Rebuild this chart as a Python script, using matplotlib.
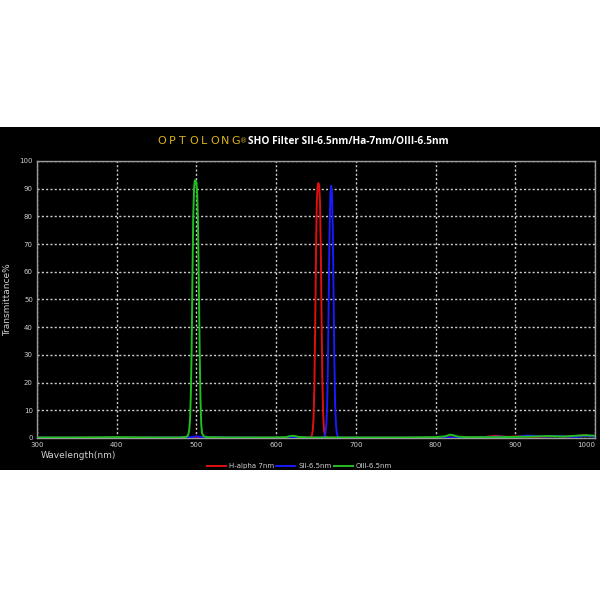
import matplotlib
matplotlib.use("Agg")
import matplotlib.pyplot as plt
from matplotlib.patches import Rectangle

# ---- data ----
oiii_wl = [300, 350, 400, 450, 479, 487, 489, 490, 491, 492, 493, 494, 495, 496, 497, 498, 499, 500,
           501, 502, 503, 504, 505, 506, 507, 509, 514, 540, 600, 612, 618, 622, 628, 640, 700, 760,
           800, 812, 818, 822, 828, 840, 880, 900, 920, 940, 960, 980, 990, 1000]
oiii_t = [0.2, 0.2, 0.3, 0.2, 0.2, 0.4, 0.8, 1.5, 3, 7, 16, 33, 58, 80, 90, 93, 93, 92,
          88, 76, 55, 32, 14, 5, 1.8, 0.6, 0.3, 0.2, 0.2, 0.3, 0.7, 0.8, 0.4, 0.2, 0.2, 0.2,
          0.3, 0.6, 1.2, 1.0, 0.5, 0.3, 0.3, 0.4, 0.5, 0.7, 0.5, 0.9, 1.0, 0.8]

ha_wl = [300, 400, 500, 600, 640, 644, 645, 646, 647, 648, 649, 650, 651, 652, 653, 654, 655, 656,
         657, 658, 659, 660, 661, 662, 665, 700, 800, 860, 875, 890, 910, 930, 950, 970, 985, 1000]
ha_t = [0.1, 0.1, 0.2, 0.1, 0.1, 0.5, 1.2, 3, 8, 20, 42, 68, 85, 91, 92, 91, 85, 68,
        42, 20, 8, 3, 1.2, 0.5, 0.1, 0.1, 0.1, 0.3, 0.8, 0.4, 0.6, 0.3, 0.7, 0.5, 1.0, 0.6]

sii_wl = [300, 400, 490, 500, 510, 600, 655, 660, 661, 662, 663, 664, 665, 666, 667, 668, 669, 670,
          671, 672, 673, 674, 675, 676, 677, 678, 682, 750, 850, 880, 900, 915, 935, 955, 975, 990, 1000]
sii_t = [0.1, 0.1, 0.2, 0.6, 0.2, 0.1, 0.1, 0.3, 0.8, 2, 5, 12, 28, 52, 75, 88, 91, 88,
         75, 52, 28, 12, 5, 2, 0.8, 0.3, 0.1, 0.1, 0.2, 0.5, 0.3, 0.9, 0.5, 0.7, 0.4, 0.8, 0.5]

x_ticks = [300, 400, 500, 600, 700, 800, 900, 1000]
y_ticks = [0, 10, 20, 30, 40, 50, 60, 70, 80, 90, 100]

series_labels = ["H-alpha 7nm", "SII-6.5nm", "OIII-6.5nm"]

# ---- figure ----
fig = plt.figure(figsize=(6, 6), dpi=100, facecolor="white")
fig.patches.append(Rectangle((0, 0.2167), 1, 0.5716, transform=fig.transFigure,
                             facecolor="black", edgecolor="none", zorder=-10))

ax = fig.add_axes([0.0617, 0.27, 0.930, 0.4617])
ax.set_zorder(1)
ax.set_facecolor("black")

ax.plot(ha_wl, ha_t, color="#e01010", lw=1.4, label=series_labels[0], zorder=3)
ax.plot(sii_wl, sii_t, color="#1a1aff", lw=1.4, label=series_labels[1], zorder=4)
ax.plot(oiii_wl, oiii_t, color="#20c020", lw=1.4, label=series_labels[2], zorder=5)

ax.set_xlim(300, 1000)
ax.set_ylim(0, 100)
ax.set_xticks(x_ticks)
ax.set_yticks(y_ticks)
ax.grid(True, color="#d0d0d0", linestyle=(0, (1.5, 1.6)), linewidth=1.0)
ax.set_axisbelow(True)
for s in ax.spines.values():
    s.set_color("#9a9a9a")
    s.set_linewidth(1.0)
ax.tick_params(axis="both", length=0, colors="#cfcfcf", labelsize=5, pad=3)
ax.get_xticklabels()[-1].set_horizontalalignment("right")

ax.set_ylabel("Transmittance%", color="#cfcfcf", fontsize=6.5)
ax.yaxis.set_label_coords(-0.045, 0.5)
fig.text(0.068, 0.24, "Wavelength(nm)", color="#cfcfcf", fontsize=6.5, ha="left", va="center")

leg = ax.legend(loc="upper center", bbox_to_anchor=(0.47, -0.068), ncol=3, frameon=False,
                fontsize=5, handlelength=2.8, handletextpad=0.4, columnspacing=0.3)
for t in leg.get_texts():
    t.set_color("#cfcfcf")

# title
brand = "OPTOLONG"
x0, step = 0.269, 0.0178
for i, ch in enumerate(brand):
    fig.text(x0 + i * step, 0.765, ch, color="#d9b21c", fontsize=8, ha="center", va="center",
             family="DejaVu Sans")
fig.text(0.400, 0.764, "®", color="#d9b21c", fontsize=5, ha="left", va="center")
fig.text(0.413, 0.765, "SHO Filter SII-6.5nm/Ha-7nm/OIII-6.5nm", color="white", fontsize=7.3,
         fontweight="bold", ha="left", va="center", family="Open Sans")

fig.savefig("out.png", dpi=100, facecolor="white")
